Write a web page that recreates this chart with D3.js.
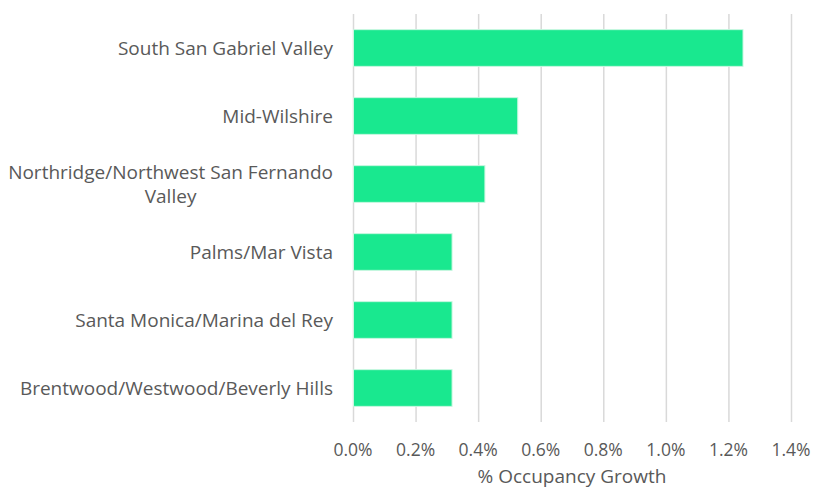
<!DOCTYPE html>
<html lang="en">
<head>
    <meta charset="UTF-8">
    <title>Occupancy Growth</title>
</head>
<style>
    body { margin: 0; background: #fff; }
    .bar { fill: #19e88f; stroke: #c8f7e0; stroke-width: 1px; }
    .grid line { stroke: #d9d9d9; stroke-width: 1.5px; }
    .grid path { display: none; }
    text { font-family: "Open Sans", sans-serif; fill: #595959; }
</style>
<body>
<svg width="821" height="491"></svg>
<script src="https://d3js.org/d3.v7.min.js"></script>
<script>
    var categories = ["South San Gabriel Valley", "Mid-Wilshire", "Northridge/Northwest San Fernando Valley",
        "Palms/Mar Vista", "Santa Monica/Marina del Rey", "Brentwood/Westwood/Beverly Hills"];
    var growth = [1.245, 0.525, 0.42, 0.315, 0.315, 0.315];
    var tickValues = [0, 0.2, 0.4, 0.6, 0.8, 1.0, 1.2, 1.4];
    var axisTitle = "% Occupancy Growth";

    var svg = d3.select("svg"),
        margin = {top: 14, right: 30, bottom: 69, left: 353},
        width = +svg.attr("width") - margin.left - margin.right,
        height = +svg.attr("height") - margin.top - margin.bottom;

    var x = d3.scaleLinear().domain([0, 1.4]).range([0, width]);
    var y = d3.scaleBand().domain(categories).range([0, height]).paddingInner(0.46).paddingOuter(0.23);

    var g = svg.append("g").attr("transform", "translate(" + margin.left + "," + margin.top + ")");

    // vertical gridlines
    g.append("g")
        .attr("class", "grid")
        .call(d3.axisBottom(x).tickValues(tickValues).tickSize(height).tickFormat(""));

    g.selectAll(".bar")
        .data(categories)
        .enter().append("rect")
        .attr("class", "bar")
        .attr("x", x(0) + 0.5)
        .attr("y", function (d) { return y(d); })
        .attr("width", function (d, i) { return x(growth[i]) - x(0); })
        .attr("height", y.bandwidth());

    // tick labels
    g.selectAll(".tick-label")
        .data(tickValues)
        .enter().append("text")
        .attr("x", function (d) { return x(d); })
        .attr("y", height + 34)
        .attr("text-anchor", "middle")
        .style("font-size", "17.5px")
        .text(function (d) { return d.toFixed(1) + "%"; });

    g.append("text")
        .attr("x", x(0.7))
        .attr("y", height + 61)
        .attr("text-anchor", "middle")
        .style("font-size", "19px")
        .text(axisTitle);

    // category labels, wrapped when too long; lines centred within the block
    var maxW = 330, right = -20;
    categories.forEach(function (c) {
        var t = g.append("text")
            .attr("text-anchor", "middle")
            .style("font-size", "19px");
        var words = c.split(" "), lines = [], line = [];
        var probe = t.append("tspan");
        words.forEach(function (w) {
            line.push(w);
            probe.text(line.join(" "));
            if (probe.node().getComputedTextLength() > maxW && line.length > 1) {
                line.pop();
                lines.push(line.join(" "));
                line = [w];
            }
        });
        lines.push(line.join(" "));
        var widest = d3.max(lines, function (l) { probe.text(l); return probe.node().getComputedTextLength(); });
        probe.remove();
        var cx = right - widest / 2;
        var cy = y(c) + y.bandwidth() / 2, lh = 24;
        lines.forEach(function (l, k) {
            t.append("tspan")
                .attr("x", cx)
                .attr("y", cy + (k - (lines.length - 1) / 2) * lh)
                .attr("dy", "0.35em")
                .text(l);
        });
    });
</script>
</body>
</html>
